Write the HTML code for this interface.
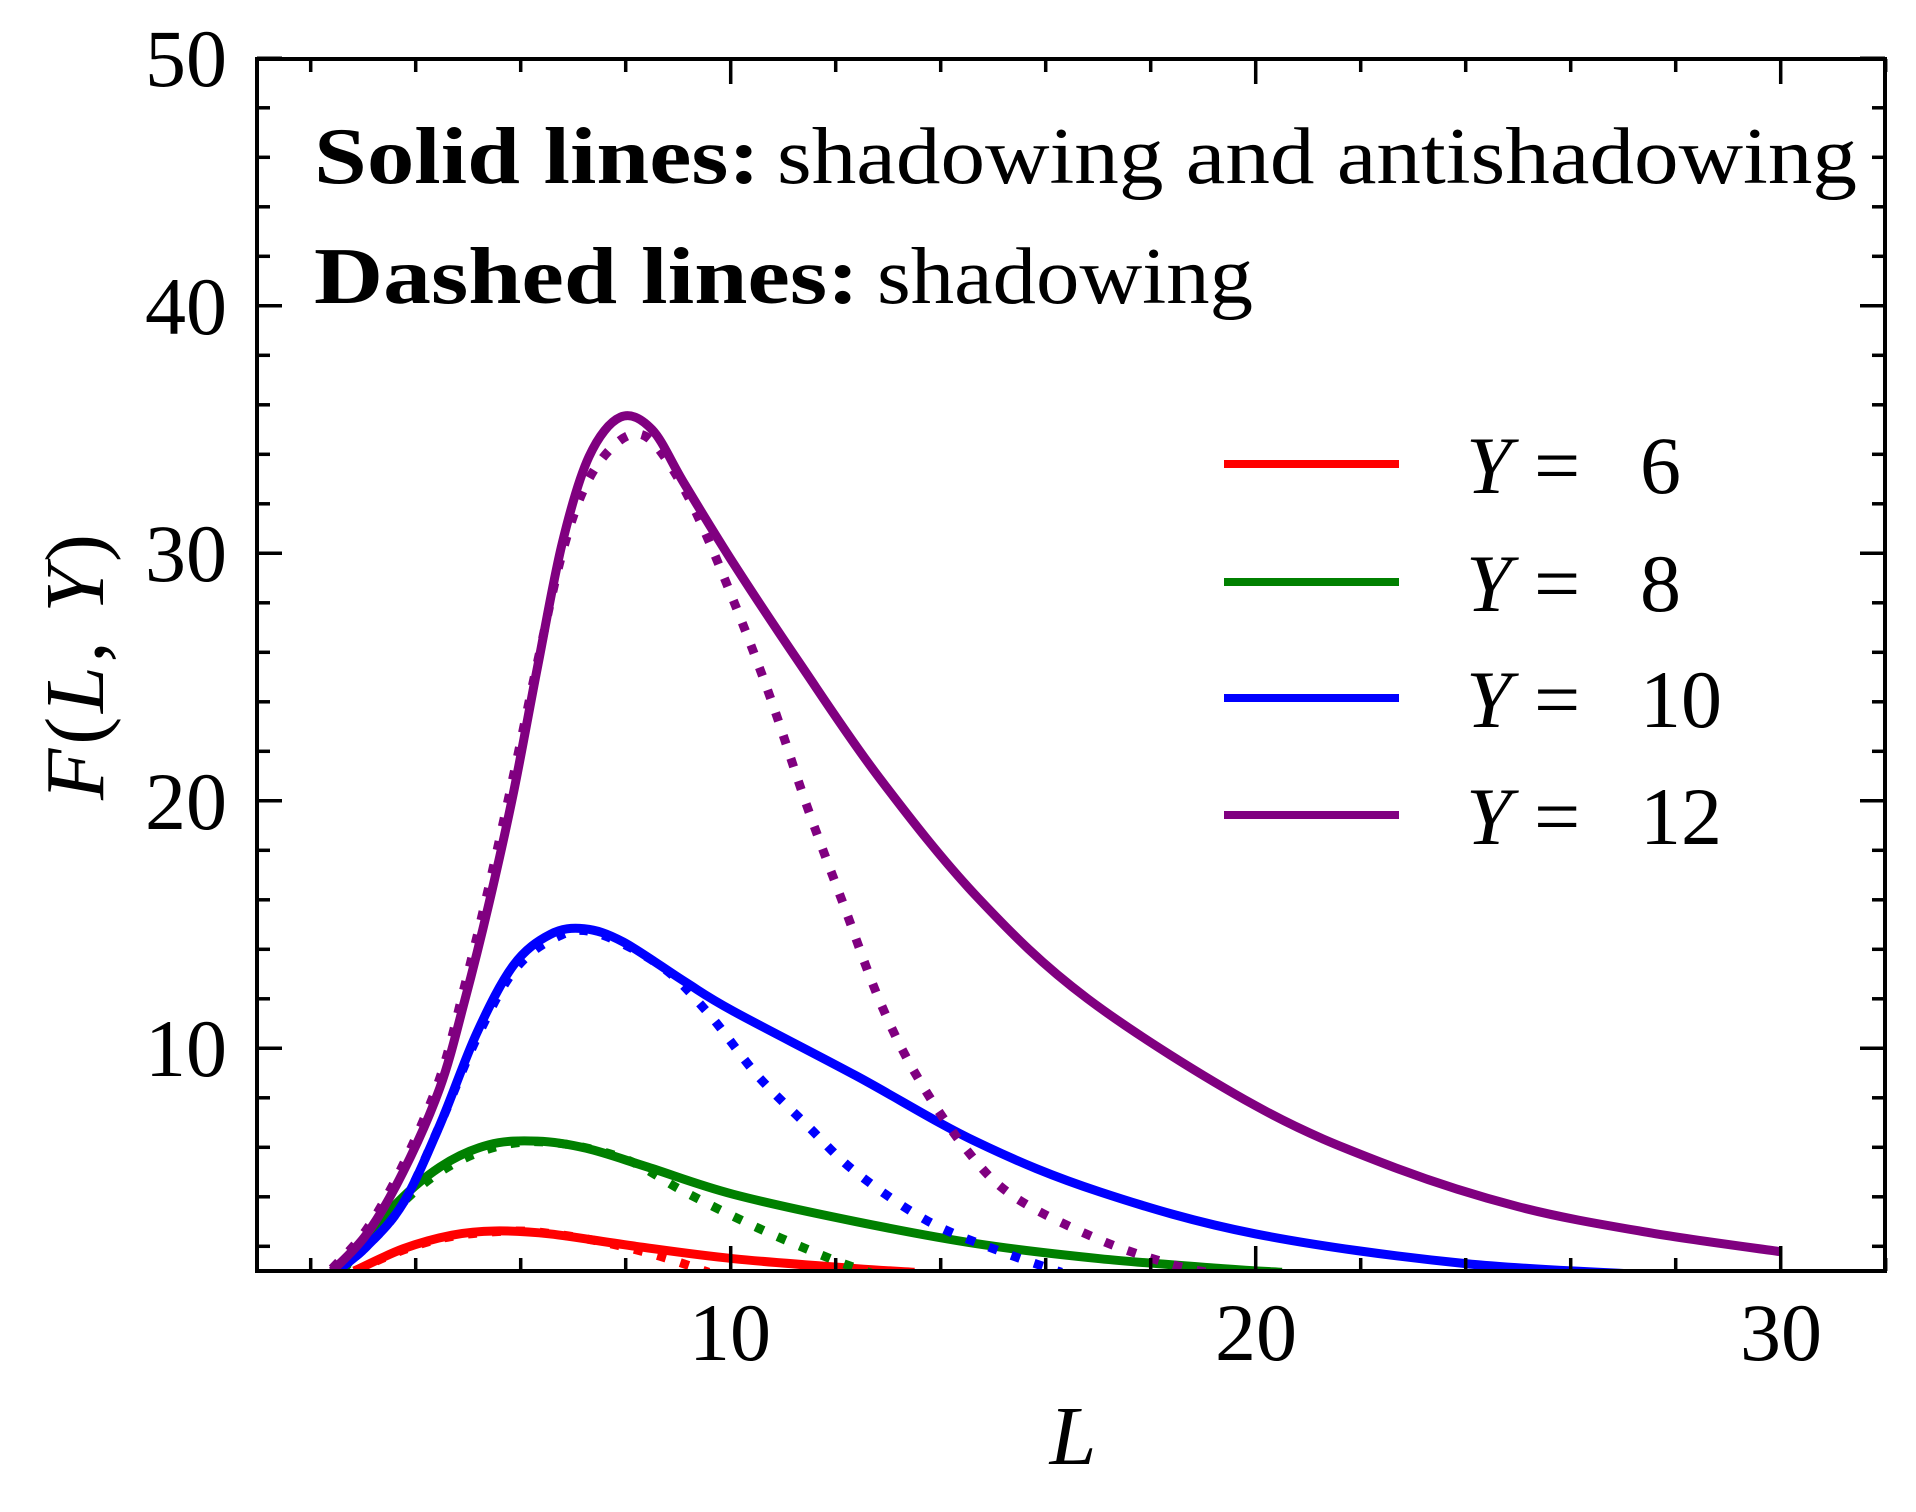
<!DOCTYPE html>
<html><head><meta charset="utf-8"><style>
html,body{margin:0;padding:0;background:#fff;}
svg{display:block;}
text{font-family:"Liberation Serif",serif;fill:#000;}
</style></head><body>
<svg id="s" width="1916" height="1512" viewBox="0 0 1916 1512" xmlns="http://www.w3.org/2000/svg">
<defs><clipPath id="c"><rect x="257" y="59" width="1628" height="1212"/></clipPath></defs>
<g id="curves" clip-path="url(#c)"></g>
<rect x="257" y="59" width="1628" height="1212" fill="none" stroke="#000" stroke-width="4"/>
<g id="ticks" stroke="#000" stroke-width="3.5"></g>
<g font-size="82">
<text x="227" y="86" text-anchor="end">50</text>
<text x="227" y="334" text-anchor="end">40</text>
<text x="227" y="581" text-anchor="end">30</text>
<text x="227" y="829" text-anchor="end">20</text>
<text x="227" y="1076" text-anchor="end">10</text>
<text x="730" y="1360" text-anchor="middle">10</text>
<text x="1256" y="1360" text-anchor="middle">20</text>
<text x="1781" y="1360" text-anchor="middle">30</text>
</g>
<text x="1073" y="1464" font-size="84" font-style="italic" text-anchor="middle">L</text>
<text transform="translate(103,667) rotate(-90)" font-size="84" text-anchor="middle" textLength="266" lengthAdjust="spacing"><tspan font-style="italic">F</tspan>(<tspan font-style="italic">L</tspan>, <tspan font-style="italic">Y</tspan>)</text>
<text x="314" y="183" font-size="80" font-weight="bold" textLength="446" lengthAdjust="spacingAndGlyphs">Solid lines:</text>
<text x="777" y="183" font-size="80" textLength="1080" lengthAdjust="spacingAndGlyphs">shadowing and antishadowing</text>
<text x="314" y="303" font-size="80" font-weight="bold" textLength="545" lengthAdjust="spacingAndGlyphs">Dashed lines:</text>
<text x="877" y="303" font-size="80" textLength="376" lengthAdjust="spacingAndGlyphs">shadowing</text>
<g stroke-width="8">
<line x1="1224" y1="464" x2="1399" y2="464" stroke="#ff0000"/>
<line x1="1224" y1="582" x2="1399" y2="582" stroke="#008000"/>
<line x1="1224" y1="698" x2="1399" y2="698" stroke="#0000ff"/>
<line x1="1224" y1="815" x2="1399" y2="815" stroke="#800080"/>
</g>
<g font-size="82">
<text x="1466" y="493" font-style="italic">Y</text><text x="1534" y="493">=</text><text x="1640" y="493">6</text>
<text x="1466" y="611" font-style="italic">Y</text><text x="1534" y="611">=</text><text x="1640" y="611">8</text>
<text x="1466" y="727" font-style="italic">Y</text><text x="1534" y="727">=</text><text x="1640" y="727">10</text>
<text x="1466" y="844" font-style="italic">Y</text><text x="1534" y="844">=</text><text x="1640" y="844">12</text>
</g>
</svg>
<script>
var X=function(L){return 205.7+52.5*L;}, Y=function(v){return 1295.8-24.75*v;};
function path(pts){
  var p=pts.map(function(a){return [X(a[0]),Y(a[1])];});
  var d="M"+p[0][0].toFixed(1)+","+p[0][1].toFixed(1);
  for(var i=0;i<p.length-1;i++){
    var p0=p[i-1]||p[i],p1=p[i],p2=p[i+1],p3=p[i+2]||p2;
    var c1=[p1[0]+(p2[0]-p0[0])/6,p1[1]+(p2[1]-p0[1])/6];
    var c2=[p2[0]-(p3[0]-p1[0])/6,p2[1]-(p3[1]-p1[1])/6];
    d+=" C"+c1.join(",")+" "+c2.join(",")+" "+p2.join(",");
  }
  return d;
}
var S=[
 ["#ff0000",[[2.83,1],[3.76,1.9],[4.69,2.45],[5.51,2.62],[6.56,2.5],[8.19,2.0],[10.05,1.5],[12.38,1.1],[13.5,0.95]],
  [[2.83,1],[3.76,1.85],[4.69,2.4],[5.86,2.62],[6.8,2.45],[7.72,2.1],[8.65,1.6],[9.58,0.95]]],
 ["#008000",[[2.6,1],[3.53,3.5],[4.46,5.2],[5.39,6.1],[6.32,6.25],[7.25,5.96],[8.42,5.2],[10.05,4.1],[12.38,3.0],[14.7,2.1],[17.03,1.5],[19.36,1.1],[20.5,0.95]],
  [[2.6,1],[3.53,3.3],[4.46,5.0],[5.5,6.0],[6.56,6.2],[7.95,5.56],[9.12,4.2],[10.51,2.75],[11.9,1.5],[12.7,0.9]]],
 ["#0000ff",[[2.5,1],[3.07,2.0],[3.76,3.74],[4.46,6.9],[5.16,10.6],[5.86,13.35],[6.56,14.6],[7.21,14.83],[7.95,14.3],[9.12,12.7],[10.05,11.5],[12.38,8.9],[14.7,6.2],[17.03,4.2],[20,2.5],[24.0,1.3],[28,0.8]],
  [[2.5,1],[3.07,2.0],[3.76,3.74],[4.46,6.9],[5.16,10.4],[5.86,13.1],[6.6,14.4],[7.37,14.7],[8.65,13.35],[9.58,11.4],[10.51,8.9],[11.45,6.9],[12.38,5.0],[13.77,3.0],[15.17,1.77],[16.3,0.95]]],
 ["#800080",[[2.41,1],[3.07,2.5],[3.76,5.0],[4.46,8.4],[4.93,11.9],[5.39,15.8],[5.86,20.3],[6.32,25.4],[6.79,30.4],[7.3,33.9],[7.9,35.5],[8.5,35.0],[9.12,32.8],[10.05,29.6],[11.3,25.6],[12.84,20.9],[14.7,16.1],[16.8,12.0],[19.98,7.7],[22.5,5.3],[25,3.6],[27.5,2.55],[30,1.78]],
  [[2.41,1.1],[3.07,2.7],[3.76,5.3],[4.46,8.8],[4.93,12.5],[5.39,16.5],[5.86,21.0],[6.32,25.6],[6.79,30.0],[7.25,32.8],[7.8,34.4],[8.3,34.8],[8.77,33.8],[9.35,31.6],[10.05,28.1],[10.75,24.2],[11.45,19.8],[12.15,15.8],[12.84,11.9],[13.54,8.9],[14.47,5.96],[15.4,4.0],[17.03,2.26],[18.4,1.27],[19.2,0.9]]]
];
var g=document.getElementById("curves"),h="";
S.forEach(function(s){
  h+='<path d="'+path(s[1])+'" fill="none" stroke="'+s[0]+'" stroke-width="9" stroke-linejoin="round"/>';
  h+='<path d="'+path(s[2])+'" fill="none" stroke="'+s[0]+'" stroke-width="9" stroke-dasharray="9 15"/>';
});
g.innerHTML=h;
var t="";
for(var L=2;L<=32;L+=2){var x=X(L),len=(L%10==0)?25:13;
 t+='<line x1="'+x+'" y1="1271" x2="'+x+'" y2="'+(1271-len)+'"/><line x1="'+x+'" y1="59" x2="'+x+'" y2="'+(59+len)+'"/>';}
for(var v=2;v<=50;v+=2){var y=Y(v),len=(v%10==0)?25:13;
 t+='<line x1="257" y1="'+y+'" x2="'+(257+len)+'" y2="'+y+'"/><line x1="1885" y1="'+y+'" x2="'+(1885-len)+'" y2="'+y+'"/>';}
document.getElementById("ticks").innerHTML=t;
</script>
</body></html>
